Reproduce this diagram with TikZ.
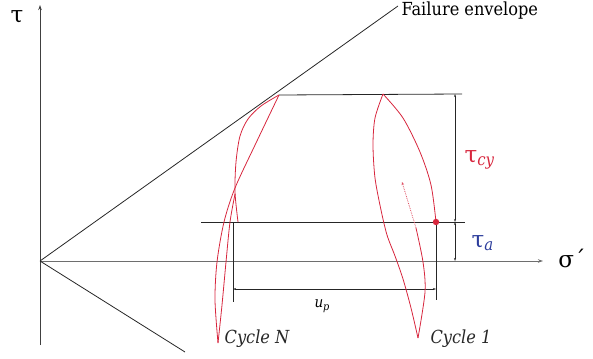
\documentclass[tikz,border=0pt]{standalone}
\usepackage{fontspec}
\setmainfont{DejaVu Serif Condensed}
\newfontfamily\greekfont{DejaVu Serif}
\usetikzlibrary{arrows.meta}
\definecolor{LoopRed}{HTML}{D7263D}
\definecolor{AmpBlue}{HTML}{2B3C9B}
\definecolor{AxisGray}{HTML}{6E6E6E}
\newcommand{\symsub}[3]{{\fontsize{#3}{#3}\selectfont #1}\raisebox{-0.3em}{\fontsize{0.72\dimexpr#3pt}{1}\selectfont\itshape #2}}

\begin{document}
\begin{tikzpicture}[x=1pt,y=-1pt,
    axis/.style={AxisGray,line width=1pt,-{Stealth[length=5pt,width=3.5pt]}},
    guide/.style={black!85,line width=0.8pt},
    dim/.style={black!85,line width=0.6pt,{Stealth[length=3pt,width=2pt]}-{Stealth[length=3pt,width=2pt]}},
    loop/.style={LoopRed,line width=0.8pt},
    cyc/.style={font=\fontsize{18}{20}\selectfont\itshape,text=black!85}]
  \useasboundingbox (0,0) rectangle (593,358);
  \coordinate (O) at (40,261);
  \coordinate (env) at (398,6);
  \coordinate (peakN) at (279,95);
  \coordinate (peak1) at (383,94);
  \coordinate (hit) at (436,222);
  % axes and envelope
  \draw[axis,black!75] (40,345) -- (40,5);
  \draw[axis] (O) -- (543,261);
  \draw[guide] (O) -- (env);
  \draw[guide] (O) -- (185,352);
  \node[anchor=west,font=\fontsize{18}{20}\selectfont] (envlbl) at (398,11) {Failure envelope};
  \node[font=\greekfont\fontsize{23}{23}\selectfont] (taulbl) at (17,17) {τ};
  \node[font=\greekfont\fontsize{23}{23}\selectfont] (siglbl) at (572,258) {σ´};
  % stress levels
  \draw[guide] (peakN) -- (462,94) coordinate (topend);
  \draw[guide] (201,222) -- (465,222) coordinate (midend);
  \draw[dim] (455,94) -- (455,222);
  \draw[dim] (455,222) -- (455,261);
  \node[LoopRed,anchor=west] (cylbl) at (461,160) {\symsub{\greekfont τ}{cy}{23}};
  \node[AmpBlue,anchor=west] (albl) at (468,243) {\symsub{\greekfont τ}{a}{23}};
  % permanent displacement
  \draw[guide] (233,222) -- (233,302);
  \draw[guide] (hit) -- (436,300);
  \draw[dim] (233,289) -- (436,289);
  \node (uplbl) at (322,306) {\symsub{\itshape u}{p}{15}};
  % cycle 1
  \draw[loop] plot[smooth] coordinates {(hit) (431,185) (420,152) (403,118) (peak1)};
  \draw[loop] plot[smooth] coordinates {(peak1) (375,118) (373,145) (375,178) (381,210) (387,235) (395,256) (403,279) (411,308) (418,338)};
  \draw[loop] plot[smooth] coordinates {(418,338) (425,292) (423,262) (416,228)};
  \draw[LoopRed!80,densely dotted,line width=0.8pt,-{Stealth[length=3pt,width=2.5pt]}] (416,228) -- (402,182);
  \fill[LoopRed] (hit) circle (3.2pt);
  % cycle N
  \draw[loop] plot[smooth] coordinates {(238,222) (235,192) (236,162) (240,136) (248,119) (261,106) (peakN)};
  \draw[loop] plot[smooth] coordinates {(peakN) (256,143) (235,188) (224,222) (217,262) (215,300) (218,343)};
  \draw[loop] plot[smooth] coordinates {(218,343) (222,305) (226,262) (230,222) (235,194)};
  \node[cyc] (cycN) at (257,339) {Cycle N};
  \node[cyc] (cyc1) at (461,339) {Cycle 1};
\end{tikzpicture}
\end{document}
